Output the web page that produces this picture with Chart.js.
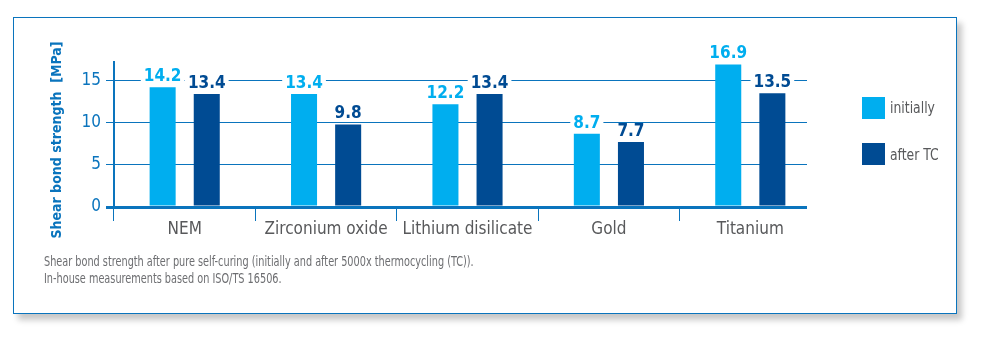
<!DOCTYPE html>
<html>
<head>
<meta charset="utf-8">
<script src="https://cdn.jsdelivr.net/npm/chart.js@4"></script>
<style>
html,body{margin:0;padding:0;background:#fff;}
body{width:987px;height:352px;position:relative;overflow:hidden;font-family:'DejaVu Sans Condensed',sans-serif;}
#box{position:absolute;left:13px;top:17px;width:942px;height:295px;border:1px solid #0a74bd;box-shadow:5px 6px 6px rgba(0,0,0,0.22);background:#fff;}
#wrap{position:absolute;left:0;top:0;width:987px;height:352px;}
.leg{position:absolute;left:862px;width:23px;height:22px;}
.legt{position:absolute;left:890px;font-size:15px;color:#58595b;line-height:18px;transform:scaleX(0.92);transform-origin:left center;white-space:nowrap;}
.cap{position:absolute;left:44px;font-size:13.5px;color:#6d6e71;line-height:17px;transform:scaleX(0.8);transform-origin:left center;white-space:nowrap;}
</style>
</head>
<body>
<div id="box"></div>
<div id="wrap"><canvas id="c" width="987" height="352"></canvas></div>
<div class="leg" style="top:97px;background:#00aeef"></div>
<div class="legt" style="top:99px">initially</div>
<div class="leg" style="top:143px;background:#004b93"></div>
<div class="legt" style="top:146px">after TC</div>
<div class="cap" style="top:253px">Shear bond strength after pure self-curing (initially and after 5000x thermocycling (TC)).</div>
<div class="cap" style="top:270px">In-house measurements based on ISO/TS 16506.</div>
<script>
let categories=["NEM","Zirconium oxide","Lithium disilicate","Gold","Titanium"]
let initially=[14.2,13.4,12.2,8.7,16.9]
let afterTC=[13.4,9.8,13.4,7.7,13.5]
let yTicks=[0,5,10,15]
let yTitle="Shear bond strength  [MPa]"

const blue="#0a74bd"
const light="#00aeef"
const dark="#004b93"
const fnt="'DejaVu Sans Condensed',sans-serif"

// value labels above bars, white backing over the gridlines
const valueLabels={
id:"valueLabels",
afterDatasetsDraw(ch){
const ctx=ch.ctx
ctx.save()
ctx.font="bold 17px "+fnt
ctx.textAlign="center"
ctx.textBaseline="bottom"
ch.data.datasets.forEach((ds,i)=>{
ch.getDatasetMeta(i).data.forEach((bar,j)=>{
const t=ds.data[j].toFixed(1)
const w=ctx.measureText(t).width
const y=bar.y-2
ctx.fillStyle="#fff"
ctx.fillRect(bar.x-w/2-3,y-15,w+6,14)
ctx.fillStyle=ds.backgroundColor
ctx.fillText(t,bar.x,y)
})
})
ctx.restore()
}
}

// gridlines stop short of the last category edge
const trimGrid={
id:"trimGrid",
beforeDatasetsDraw(ch){
const a=ch.chartArea
ch.ctx.save()
ch.ctx.fillStyle="#fff"
ch.ctx.fillRect(a.right-14,a.top-2,20,a.bottom-a.top+20)
ch.ctx.restore()
}
}

// axis title sits a bit lower than the plot's middle
const axisTitle={
id:"axisTitle",
afterDraw(ch){
const ctx=ch.ctx
ctx.save()
ctx.translate(57,140)
ctx.rotate(-Math.PI/2)
ctx.font="bold 14px "+fnt
ctx.fillStyle=blue
ctx.textAlign="center"
ctx.textBaseline="middle"
ctx.fillText(yTitle,0,0)
ctx.restore()
}
}

chart=new Chart(document.getElementById("c"),{
type:"bar",
data:{labels:categories,datasets:[
{label:"initially",data:initially,backgroundColor:light},
{label:"after TC",data:afterTC,backgroundColor:dark}
]},
options:{
responsive:false,animation:false,
layout:{padding:{left:48,top:62,right:166,bottom:100}},
plugins:{legend:{display:false},tooltip:{enabled:false}},
datasets:{bar:{categoryPercentage:0.624,barPercentage:0.59}},
scales:{
x:{
grid:{offset:true,drawOnChartArea:false,color:blue,lineWidth:1,tickLength:14},
border:{display:false},
ticks:{color:"#58595b",font:{family:fnt,size:17},padding:-2},
afterFit:s=>{s.height=45}
},
y:{
min:0,max:17.2,
afterBuildTicks:s=>{s.ticks=yTicks.map(v=>({value:v}))},
grid:{color:blue,lineWidth:c=>c.tick&&c.tick.value===0?3:1,tickLength:8},
border:{color:blue,width:2},
ticks:{color:blue,font:{family:fnt,size:17},padding:5},
afterFit:s=>{s.width=66}
}
}
},
plugins:[trimGrid,valueLabels,axisTitle]
})
</script>
</body>
</html>
